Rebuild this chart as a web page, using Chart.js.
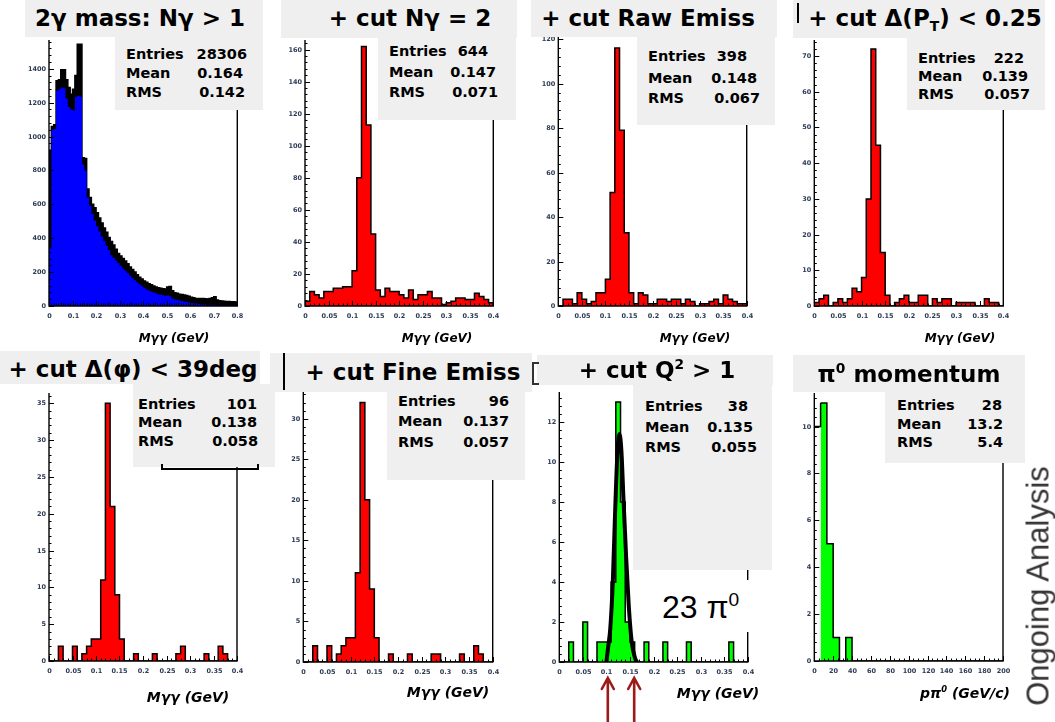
<!DOCTYPE html>
<html><head><meta charset="utf-8">
<script src="https://cdn.jsdelivr.net/npm/chart.js@4.4.1/dist/chart.umd.min.js"></script>
<style>
html,body{margin:0;padding:0;background:#fff;}
#wrap{position:relative;width:1055px;height:722px;overflow:hidden;font-family:'DejaVu Sans',sans-serif;color:#000;}
canvas{position:absolute;}
.box{position:absolute;background:#efefef;}
.ttl{position:absolute;font-weight:bold;font-size:23px;white-space:nowrap;transform:translate(-50%,-50%);line-height:1;}
.ttl sub,.ttl sup,.ax sup,.big sup{font-size:60%;line-height:0;}
.st{position:absolute;font-weight:bold;font-size:14.5px;white-space:nowrap;line-height:1;}
.ax{position:absolute;font-weight:bold;font-style:italic;white-space:nowrap;transform:translate(-50%,-50%);line-height:1;}
.ln{position:absolute;background:#000;}
</style></head><body><div id="wrap"></div>
<script>
// ---------- DATA ----------
// Panel 1: 2-gamma mass, 80 bins 0..0.8 (black = all, blue = subset)
const p1Black = [920,1060,1070,1330,1335,1395,1395,1335,1290,1250,1280,1360,1545,1545,875,870,
  690,640,600,580,550,520,490,460,435,405,
  380,360,335,310,295,280,265,250,230,215,200,185,170,160,148,140,132,125,118,112,108,105,102,100,112,115,90,78,75,70,68,65,62,58,52,48,45,45,44,44,43,42,44,48,55,35,31,30,28,27,26,25,25,24];
const p1Blue = [340,1040,1045,1270,1280,1290,1285,1225,1175,1160,1155,1235,1240,1235,835,800,
  640,590,545,505,470,440,410,385,355,330,
  300,285,268,252,238,222,208,195,180,165,152,140,128,118,108,98,92,86,80,75,70,66,63,60,62,58,45,38,35,32,29,26,23,20,18,16,15,14,12,10,9,8,7,7,8,5,4,4,3,3,3,2,2,2];
// Panels 2-7: 40 bins 0..0.4 GeV
const p2Counts = [3,9,7,5,9,9,11,11,12,12,22,80,162,113,45,10,6,11,9,9,7,5,10,4,7,7,9,5,5,1,2,3,5,5,4,4,8,6,4,2];
const p3Counts = [0,3,3,1,6,3,1,2,6,6,12,51,116,79,33,6,1,6,5,1,1,3,3,2,3,3,1,3,2,0,1,1,2,3,1,5,3,2,1,1];
const p4Counts = [1,2,3,0,1,2,1,2,5,4,8,30,72,45,15,3,0,1,2,3,1,1,3,3,0,2,1,2,2,0,1,1,1,1,0,0,2,1,1,0];
const p5Counts = [0,0,2,0,0,2,0,1,2,3,3,11,35,21,9,3,0,0,1,0,0,0,1,0,0,0,0,1,2,0,0,0,0,1,0,0,2,1,0,0];
const p6Counts = [0,0,2,0,0,2,0,1,2,3,3,11,32,20,9,3,0,0,1,0,0,0,1,0,0,0,0,1,1,0,0,0,0,1,0,0,2,1,0,0];
const p7Counts = [0,0,1,0,0,2,0,0,1,1,1,4,13,8,2,1,0,0,1,0,0,0,1,0,0,0,0,1,0,0,0,0,0,0,0,0,1,0,0,0];
// Panel 7 fit curve
const fitX = [0.100,0.104,0.108,0.1136,0.1185,0.1235,0.1277,0.132,0.136,0.1418,0.1475,0.1538,0.1608,0.165];
const fitY = [0,0.8,1.6,4.0,7.5,10.5,11.4,10.5,8.3,5.3,2.8,1.0,0.2,0];
const arrowX = [0.103, 0.159];
// Panel 8: pi0 momentum, 30 bins 0..200 GeV/c
const p8Counts = [10,11,5,1,0,1,0,0,0,0,0,0,0,0,0,0,0,0,0,0,0,0,0,0,0,0,0,0,0,0];

const titles = ['2γ mass: Nγ &gt; 1','+ cut Nγ = 2','+ cut Raw Emiss','+ cut Δ(P<sub>T</sub>) &lt; 0.25',
  '+ cut Δ(φ) &lt; 39deg','+ cut Fine Emiss','+ cut Q<sup>2</sup> &gt; 1','π<sup>0</sup> momentum'];
const statEntries = ['28306','644','398','222','101','96','38','28'];
const statMean = ['0.164','0.147','0.148','0.139','0.138','0.137','0.135','13.2'];
const statRMS = ['0.142','0.071','0.067','0.057','0.058','0.057','0.055','5.4'];
const axisTitles = ['Mγγ (GeV)','Mγγ (GeV)','Mγγ (GeV)','Mγγ (GeV)','Mγγ (GeV)','Mγγ (GeV)','Mγγ (GeV)','pπ<sup>0</sup> (GeV/c)'];

// ---------- DRAWING ----------
const wrap = document.getElementById('wrap');
const fmt = v => String(parseFloat(v.toFixed(4)));

const rootAxes = {
  id: 'rootAxes',
  afterDatasetsDraw(chart, args, o) {
    const {ctx, chartArea: a, scales: {x, y}} = chart;
    ctx.save();
    ctx.strokeStyle = '#000';
    ctx.lineWidth = 1.4;
    ctx.beginPath();
    ctx.moveTo(a.left, a.top); ctx.lineTo(a.left, a.bottom); ctx.lineTo(a.right, a.bottom); ctx.lineTo(a.right, a.top);
    ctx.stroke();
    ctx.lineWidth = 1;
    ctx.font = 'bold 6.5px "DejaVu Sans"';
    ctx.fillStyle = '#2d3b55';
    // y ticks
    const ny = Math.floor(y.max / o.yMinor + 1e-6), yr = Math.round(o.yMajor / o.yMinor);
    ctx.beginPath();
    ctx.textAlign = 'right'; ctx.textBaseline = 'middle';
    for (let i = 0; i <= ny; i++) {
      const v = i * o.yMinor, py = Math.round(y.getPixelForValue(v)) + 0.5;
      const major = i % yr === 0;
      ctx.moveTo(a.left, py); ctx.lineTo(a.left + (major ? 5 : 2.5), py);
      if (major) ctx.fillText(fmt(v), a.left - 3, py);
    }
    // x ticks
    const nx = Math.round((x.max - x.min) / o.xMinor), xr = Math.round(o.xMajor / o.xMinor);
    const xm = o.xMid ? Math.round(o.xMid / o.xMinor) : 0;
    ctx.textAlign = 'center';
    for (let i = 0; i <= nx; i++) {
      const v = x.min + i * o.xMinor, px = Math.round(x.getPixelForValue(v)) + 0.5;
      const major = i % xr === 0, mid = xm && i % xm === 0;
      const len = major ? 5 : (mid ? 3.5 : 2.5);
      ctx.moveTo(px, a.bottom); ctx.lineTo(px, a.bottom - len);
      if (major) ctx.fillText(fmt(v), px, a.bottom + 10);
    }
    ctx.stroke();
    // arrows
    if (o.arrows) {
      ctx.strokeStyle = '#9c1a1a'; ctx.lineWidth = 2.6; ctx.lineCap = 'round';
      o.arrows.forEach(v => {
        const px = x.getPixelForValue(v);
        ctx.beginPath();
        ctx.moveTo(px, chart.height); ctx.lineTo(px, o.arrowTip);
        ctx.moveTo(px - 6, o.arrowTip + 11); ctx.lineTo(px, o.arrowTip); ctx.lineTo(px + 6, o.arrowTip + 11);
        ctx.stroke();
      });
    }
    ctx.restore();
  }
};

function hist(values, xMin, xMax, fill, order, extra) {
  const n = values.length, w = (xMax - xMin) / n;
  const pts = [{x: xMin, y: 0}];
  values.forEach((v, i) => pts.push({x: xMin + i * w, y: v}));
  pts.push({x: xMax, y: 0});
  return Object.assign({data: pts, parsing: false, stepped: true, fill: 'origin',
    backgroundColor: fill, borderColor: '#000', borderWidth: 1.5, pointRadius: 0, order: order}, extra || {});
}

function makePanel(p) {
  const c = document.createElement('canvas');
  c.width = p.w; c.height = p.h;
  c.style.left = p.x + 'px'; c.style.top = p.y + 'px';
  wrap.appendChild(c);
  new Chart(c, {
    type: 'line',
    data: {datasets: p.datasets},
    options: {
      responsive: false, animation: false, devicePixelRatio: 1, events: [],
      layout: {padding: {left: p.L - p.x, top: p.T - p.y, right: p.x + p.w - p.R, bottom: p.y + p.h - p.B}},
      scales: {
        x: {type: 'linear', display: false, min: p.xMin, max: p.xMax},
        y: {type: 'linear', display: false, min: 0, max: p.yMax}
      },
      plugins: {legend: {display: false}, tooltip: {enabled: false}, rootAxes: p.axes},
      elements: {point: {radius: 0}}
    },
    plugins: [rootAxes]
  });
}

const RED = '#ff0000', GREEN = '#00ff00', BLUE = '#0000ff';
const panels = [
  {x:0,y:0,w:265,h:345,L:49,R:237.3,T:40,B:306,xMin:0,xMax:0.8,yMax:1570,
   axes:{yMajor:200,yMinor:40,xMajor:0.1,xMinor:0.01,xMid:0.05},
   datasets:[hist(p1Black,0,0.8,'#000',2), hist(p1Blue,0,0.8,BLUE,1,{borderWidth:0})]},
  {x:265,y:0,w:265,h:345,L:305,R:493.3,T:40,B:306,xMin:0,xMax:0.4,yMax:166,
   axes:{yMajor:20,yMinor:4,xMajor:0.05,xMinor:0.01}, datasets:[hist(p2Counts,0,0.4,RED,1)]},
  {x:525,y:0,w:265,h:345,L:558.3,R:746.7,T:37,B:306,xMin:0,xMax:0.4,yMax:121,
   axes:{yMajor:20,yMinor:4,xMajor:0.05,xMinor:0.01}, datasets:[hist(p3Counts,0,0.4,RED,1)]},
  {x:785,y:0,w:270,h:345,L:814.3,R:1003.3,T:40,B:306,xMin:0,xMax:0.4,yMax:74.5,
   axes:{yMajor:10,yMinor:2,xMajor:0.05,xMinor:0.01}, datasets:[hist(p4Counts,0,0.4,RED,1)]},
  {x:0,y:350,w:270,h:372,L:49,R:237,T:393,B:661,xMin:0,xMax:0.4,yMax:36.4,
   axes:{yMajor:5,yMinor:1,xMajor:0.05,xMinor:0.01}, datasets:[hist(p5Counts,0,0.4,RED,1)]},
  {x:270,y:350,w:265,h:372,L:303.3,R:492.7,T:392,B:662,xMin:0,xMax:0.4,yMax:33.3,
   axes:{yMajor:5,yMinor:1,xMajor:0.05,xMinor:0.01}, datasets:[hist(p6Counts,0,0.4,RED,1)]},
  {x:530,y:350,w:250,h:372,L:559.3,R:747.7,T:392,B:662,xMin:0,xMax:0.4,yMax:13.5,
   axes:{yMajor:2,yMinor:0.4,xMajor:0.05,xMinor:0.01,arrows:arrowX,arrowTip:328},
   datasets:[hist(p7Counts,0,0.4,GREEN,2),
     {data: fitX.map((v,i)=>({x:v,y:fitY[i]})), parsing:false, borderColor:'#000', borderWidth:4,
      cubicInterpolationMode:'monotone', fill:false, pointRadius:0, order:1}]},
  {x:780,y:350,w:275,h:372,L:814.3,R:1003,T:393,B:661,xMin:0,xMax:200,yMax:11.43,
   axes:{yMajor:2,yMinor:0.4,xMajor:20,xMinor:5},
   datasets:[hist(p8Counts,0,200,GREEN,1,{segment:{backgroundColor: ctx => ctx.p0DataIndex === 1 ? '#ffffff' : undefined}})]}
];
panels.forEach(makePanel);

// ---------- TEXT BOXES ----------
function div(cls, css, html) {
  const d = document.createElement('div');
  d.className = cls; Object.assign(d.style, css);
  if (html !== undefined) d.innerHTML = html;
  wrap.appendChild(d); return d;
}
const titleBoxes = [[25,0,238,37,140,18],[281,0,236,38,410,18],[531,0,246,37,648,18],[793,0,252,38,925,18],
  [0,351,260,33,133,369],[270,353,262,39,413,372],[537,355,236,30,657,370],[793,355,232,37,909,374]];
const statBoxes = [[115,37,148,73],[378,38,138,82],[637,37,138,88],[907,38,138,72],
  [133,384,142,83],[387,392,138,88],[633,385,139,185],[885,392,140,71]];
// [labelX, rightEntries, rightMean, rightRMS, y1, y2, y3]
const statText = [[126,247,243,245,55,74,93],[389,488,496,498,52,73,93],[648,747,757,760,57,79,99],[918,1024,1028,1030,59,77,95],
  [138,257,257,258,405,423,442],[398,509,509,509,402,422,443],[645,748,753,757,407,428,448],[897,1002,1003,1003,406,425,443]];
const axisPos = [[174,338,12],[437,338,12],[695,338,12],[960,338,12],[188,697,14],[448,692,14],[718,693,14],[965,693,14]];

titleBoxes.forEach((b, i) => {
  div('box', {left:b[0]+'px', top:b[1]+'px', width:b[2]+'px', height:b[3]+'px'});
  div('ttl', {left:b[4]+'px', top:b[5]+'px'}, titles[i]);
});
statBoxes.forEach((b, i) => {
  div('box', {left:b[0]+'px', top:b[1]+'px', width:b[2]+'px', height:b[3]+'px'});
  const t = statText[i], labels = ['Entries','Mean','RMS'], vals = [statEntries[i], statMean[i], statRMS[i]];
  labels.forEach((lab, k) => {
    div('st', {left:t[0]+'px', top:(t[4+k]-8)+'px'}, lab);
    div('st', {top:(t[4+k]-8)+'px', right:(1055 - t[1+k])+'px'}, vals[k]);
  });
});
axisPos.forEach((p, i) => div('ax', {left:p[0]+'px', top:p[1]+'px', fontSize:p[2]+'px'}, axisTitles[i]));

// decorations
div('ln', {left:'797px', top:'3px', width:'2px', height:'20px'});
div('ln', {left:'283px', top:'353px', width:'2px', height:'37px'});
div('', {position:'absolute', left:'532px', top:'362px', width:'5px', height:'19px', border:'2px solid #333', borderRight:'none'});
div('', {position:'absolute', left:'161px', top:'464px', width:'94px', height:'4px', border:'2px solid #000', borderTop:'none'});
div('big', {position:'absolute', left:'656px', top:'580px', width:'96px', height:'52px', background:'#fff',
  fontFamily:'"Liberation Sans", sans-serif', fontSize:'32px', lineHeight:'54px', paddingLeft:'6px', boxSizing:'border-box'}, '23 π<sup>0</sup>');
div('', {position:'absolute', left:'1038px', top:'586px', transform:'translate(-50%,-50%) rotate(-90deg)',
  fontFamily:'"Liberation Sans", sans-serif', fontSize:'31px', color:'#333', whiteSpace:'nowrap', lineHeight:'1'}, 'Ongoing Analysis');
</script></body></html>
